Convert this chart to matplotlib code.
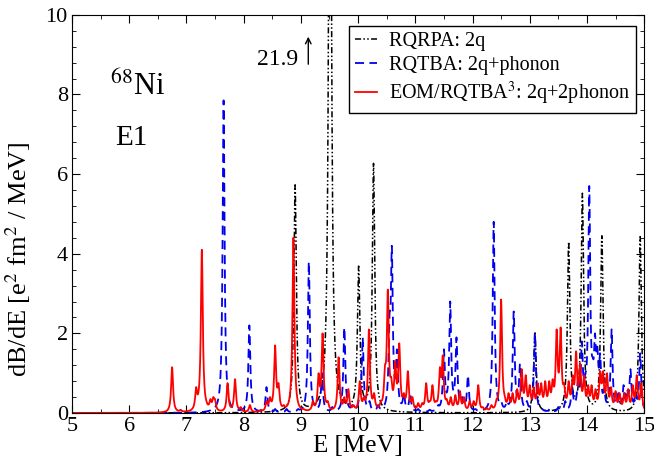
import numpy as np
import matplotlib
matplotlib.use("Agg")
import matplotlib.pyplot as plt
from matplotlib.ticker import MultipleLocator

plt.rcParams['font.family'] = ['Liberation Serif', 'DejaVu Serif']
plt.rcParams['mathtext.fontset'] = 'stix'

# ---- data: peak energies (MeV) and peak heights (e^2 fm^2 / MeV) ----
rqrpa_E = [8.90, 9.51, 10.01, 10.27, 13.09, 13.68, 13.92, 14.26, 14.93]
rqrpa_h = [5.73, 21.9, 3.69, 6.27, 2.04, 4.30, 5.52, 4.45, 4.43]

rqtba_E = [7.45, 7.65, 7.85, 8.00, 8.10, 8.25, 8.40, 8.55, 8.75, 8.95, 9.14, 9.25, 9.37,
           9.55, 9.76, 9.90, 10.02, 10.08, 10.20, 10.35, 10.55, 10.59, 10.68, 10.80,
           10.91, 11.05, 11.25, 11.40, 11.50, 11.61, 11.72, 11.82, 11.92, 12.05, 12.25,
           12.37, 12.50, 12.60, 12.72, 12.83, 12.95, 13.09, 13.20, 13.35, 13.50, 13.62,
           13.74, 13.84, 13.91, 13.97, 14.04, 14.10, 14.14, 14.18, 14.23, 14.30, 14.43,
           14.55, 14.64, 14.70, 14.76, 14.85, 14.93]
rqtba_h = [0.10, 7.85, 0.10, 0.08, 2.20, 0.05, 0.65, 0.10, 0.10, 0.10, 3.80, 0.15, 1.00,
           0.15, 2.15, 0.20, 0.40, 1.90, 0.30, 0.20, 2.50, 4.20, 1.60, 0.50,
           0.50, 0.10, 0.08, 0.20, 1.60, 2.80, 1.90, 0.40, 0.95, 0.10, 0.10,
           4.80, 0.30, 0.30, 2.55, 1.25, 0.30, 2.00, 0.15, 0.10, 0.15, 0.30,
           0.70, 0.80, 1.80, 1.00, 5.70, 1.40, 2.00, 1.70, 1.50, 0.60, 2.10,
           0.50, 0.70, 0.60, 1.10, 0.50, 1.50]

eom_E = [6.75, 6.90, 7.17, 7.27, 7.35, 7.42, 7.47, 7.50, 7.72, 7.85, 7.95, 8.11, 8.30,
         8.40, 8.46, 8.55, 8.61, 8.70, 8.87, 9.05, 9.21, 9.31, 9.38, 9.47, 9.66, 9.76,
         9.83, 9.92, 10.03, 10.10, 10.19, 10.28, 10.40, 10.47, 10.52, 10.58, 10.65,
         10.72, 10.80, 10.87, 10.95, 11.05, 11.12, 11.19, 11.25, 11.30, 11.36, 11.43,
         11.48, 11.55, 11.62, 11.70, 11.78, 11.85, 11.95, 12.02, 12.10, 12.18, 12.25,
         12.33, 12.42, 12.50, 12.56, 12.63, 12.70, 12.78, 12.86, 12.93, 13.00, 13.07,
         13.14, 13.20, 13.27, 13.34, 13.40, 13.47, 13.54, 13.60, 13.68, 13.75, 13.81,
         13.88, 13.95, 14.02, 14.08, 14.15, 14.23, 14.28, 14.35, 14.42, 14.50, 14.57,
         14.65, 14.72, 14.80, 14.87, 14.95]
eom_h = [1.15, 0.08, 0.65, 4.10, 0.30, 0.35, 0.40, 0.35, 0.75, 0.85, 0.15, 0.20, 0.08,
         0.30, 0.40, 1.70, 0.75, 0.20, 4.40, 0.10, 0.30, 1.00, 2.00, 0.30, 1.40, 0.40,
         0.60, 0.20, 0.80, 0.40, 2.10, 0.50, 0.30, 1.20, 3.10, 0.90, 1.30,
         1.75, 0.50, 1.05, 0.40, 0.25, 0.25, 0.75, 0.30, 0.70, 0.30, 1.15,
         1.45, 0.35, 0.40, 0.45, 0.55, 0.40, 0.30, 0.30, 0.70, 0.15, 0.12,
         0.20, 0.35, 2.85, 0.45, 0.50, 0.50, 0.60, 1.10, 0.95, 0.70, 0.65,
         0.75, 0.75, 0.80, 0.80, 0.85, 2.10, 2.15, 0.75, 0.80, 0.95, 1.55,
         1.25, 0.95, 0.70, 0.70, 0.60, 1.05, 1.05, 1.00, 0.65, 0.55, 0.50,
         0.50, 0.60, 0.70, 0.95, 0.75]

labels = ["RQRPA: 2q", "RQTBA: 2q+phonon", r"EOM/RQTBA$^3$: 2q+2phonon"]
xticks = [5, 6, 7, 8, 9, 10, 11, 12, 13, 14, 15]
yticks = [0, 2, 4, 6, 8, 10]


def strength(E, centers, heights, gamma):
    c = np.asarray(centers)
    h = np.asarray(heights)
    M = gamma**2 / ((c[:, None] - c[None, :])**2 + gamma**2)
    amp = np.linalg.lstsq(M, h, rcond=None)[0]
    amp = np.clip(amp, 0, None)
    return (amp[None, :] * gamma**2 / ((E[:, None] - c[None, :])**2 + gamma**2)).sum(axis=1)


E = np.linspace(5, 15, 4001)
y_rqrpa = strength(E, rqrpa_E, rqrpa_h, 0.025)
y_rqtba = strength(E, rqtba_E, rqtba_h, 0.02)
y_eom = strength(E, eom_E, eom_h, 0.02)

fig = plt.figure(figsize=(6.54, 4.63), dpi=100)
ax = fig.add_axes([0.110, 0.108, 0.875, 0.860])

ax.plot(E, y_rqrpa, color='black', lw=1.1, dashes=(4, 1.5, 1, 1.5, 1, 1.5), label=labels[0])
ax.plot(E, y_rqtba, color='#0000ee', lw=1.3, dashes=(5, 3), label=labels[1])
ax.plot(E, y_eom, color='#ff0000', lw=1.3, label=labels[2])

ax.set_xlim(5, 15)
ax.set_ylim(0, 10)
ax.set_xticks(xticks)
ax.set_yticks(yticks)
ax.xaxis.set_minor_locator(MultipleLocator(0.5))
ax.yaxis.set_minor_locator(MultipleLocator(0.4))
ax.tick_params(which='both', direction='in', top=True, right=True, labelsize=16)
ax.tick_params(which='major', length=6, pad=3)
ax.tick_params(which='minor', length=3)

ax.set_xlabel("E [MeV]", fontsize=18, labelpad=-1)
ax.set_ylabel(r"dB/dE [e$^2$ fm$^2$ / MeV]", fontsize=19)
ax.yaxis.set_label_coords(-0.068, 0.385)

ax.text(5.66, 7.99, r"$^{68}$Ni", fontsize=22)
ax.text(5.75, 6.73, "E1", fontsize=21)
ax.text(8.23, 8.74, "21.9", fontsize=17)
ax.annotate("", xy=(9.13, 9.52), xytext=(9.13, 8.69),
            arrowprops=dict(arrowstyle='->', color='black', lw=1.0))

leg = ax.legend(loc='upper right', bbox_to_anchor=(0.986, 0.972), borderaxespad=0,
                fontsize=14.5, handlelength=1.1, handletextpad=0.6, labelspacing=0.25,
                fancybox=False, edgecolor='black', framealpha=1, borderpad=0.3)
leg.get_frame().set_linewidth(1.0)

fig.savefig("out.png", dpi=100)
